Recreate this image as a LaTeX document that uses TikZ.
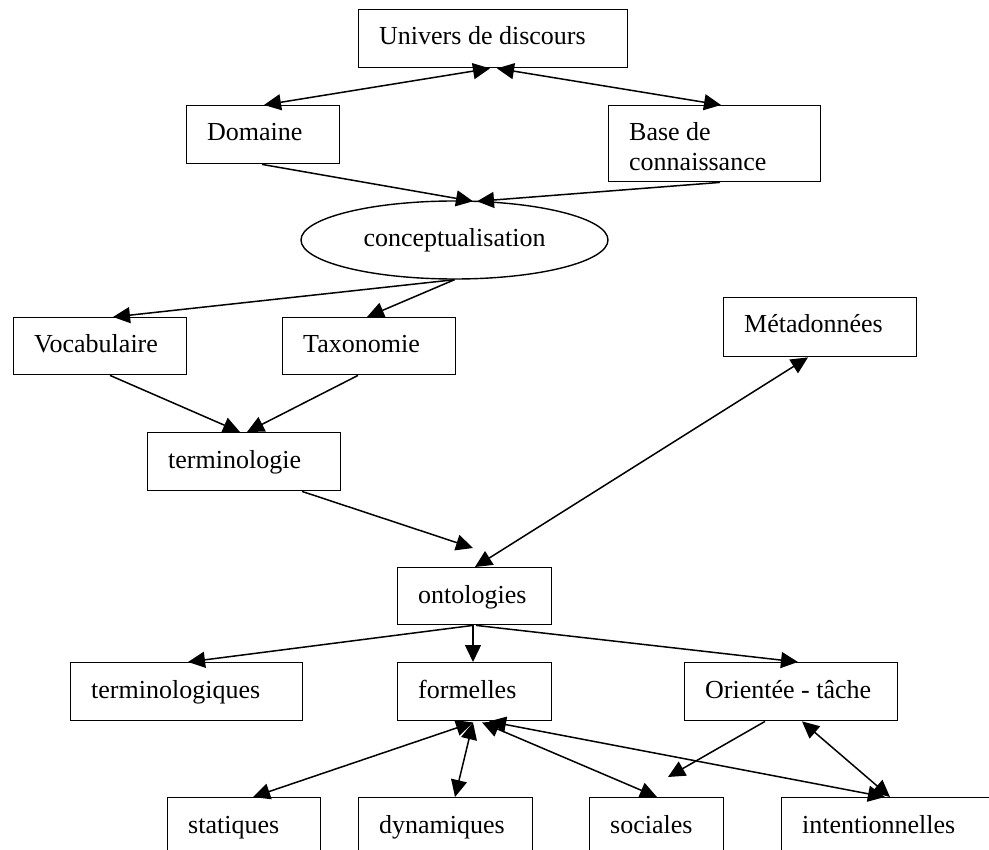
\documentclass[tikz,border=0pt]{standalone}
\usepackage{fontspec}
\setmainfont{Liberation Serif}
\usetikzlibrary{arrows.meta,calc,shapes.geometric}
\tikzset{
  box/.style={draw, line width=1.4pt, rectangle, anchor=north west, inner sep=0pt},
  lbl/.style={anchor=base west, inner sep=0pt, font=\fontsize{26}{30}\selectfont},
  tip/.tip={Triangle[length=17pt,width=16pt]},
  conn/.style={line width=1.5pt, -tip},
  bi/.style={line width=1.5pt, tip-tip},
}
\newcommand\bx[6]{%
  \node[box, minimum width={(#4)-(#2)}, minimum height={(#5)-(#3)}] (#1) at (#2,#3) {};
  \node[lbl] (#1-t) at ($(#1.north west)+(21,36)$) {#6};}
\begin{document}
\begin{tikzpicture}[x=1pt,y=-1pt]
\useasboundingbox (0,0) rectangle (989,850);
\bx{univ}{358}{9}{627}{67}{Univers de discours}
\bx{dom}{186}{105}{339}{163}{Domaine}
\node[box, minimum width=212, minimum height=76] (base) at (608,105) {};
\node[lbl] (base-t) at ($(base.north west)+(21,36)$) {Base de};
\node[lbl] (base-t2) at ($(base.north west)+(21,66)$) {connaissance};
\node[draw, line width=1.4pt, ellipse, minimum width=307, minimum height=78, inner sep=0pt,
      font=\fontsize{26}{30}\selectfont] (concept) at (454.5,240) {conceptualisation};
\bx{voc}{13}{317}{186}{374}{Vocabulaire}
\bx{tax}{282}{317}{455}{374}{Taxonomie}
\bx{meta}{723}{297}{916}{356}{Métadonnées}
\bx{term}{147}{432}{340}{490}{terminologie}
\bx{onto}{397}{567}{551}{624}{ontologies}
\bx{termq}{70}{662}{302}{720}{terminologiques}
\bx{form}{397}{662}{551}{720}{formelles}
\bx{orient}{684}{662}{897}{720}{Orientée - tâche}
\bx{stat}{167}{797}{320}{858}{statiques}
\bx{dyn}{358}{797}{532}{858}{dynamiques}
\bx{soc}{589}{797}{723}{858}{sociales}
\bx{intent}{781}{797}{1000}{858}{intentionnelles}

\coordinate (termend) at ($(onto.north west)+(76,-19)$);
\coordinate (orientend) at ($(soc.north west)+(79,-20)$);

\draw[bi] ($(univ.south west)+(132,0)$) -- ($(dom.north west)+(78,0)$);
\draw[bi] ($(univ.south west)+(139,0)$) -- ($(base.north west)+(113,0)$);
\draw[conn] ($(dom.south west)+(76,0)$) -- ($(concept.north)+(18.5,1)$);
\draw[conn] ($(base.south west)+(112,0)$) -- ($(concept.north)+(22.5,1)$);
\draw[conn] (concept.south) -- ($(voc.north west)+(100,0)$);
\draw[conn] (concept.south) -- ($(tax.north west)+(85,0)$);
\draw[conn] ($(voc.south west)+(97,0)$) -- ($(term.north west)+(93,0)$);
\draw[conn] ($(tax.south west)+(76,0)$) -- ($(term.north west)+(100,0)$);
\draw[conn] ($(term.south west)+(155,0)$) -- (termend);
\draw[bi] ($(meta.south west)+(85,0)$) -- ($(onto.north west)+(78,0)$);
\draw[conn] ($(onto.south west)+(76,0)$) -- ($(termq.north west)+(118,0)$);
\draw[conn] ($(onto.south west)+(76,0)$) -- ($(form.north west)+(76,0)$);
\draw[conn] ($(onto.south west)+(79,0)$) -- ($(orient.north west)+(114,0)$);
\draw[bi] ($(form.south west)+(76,1)$) -- ($(stat.north west)+(86,0)$);
\draw[bi] ($(form.south west)+(76,1)$) -- ($(dyn.north west)+(97,0)$);
\draw[bi] ($(form.south west)+(85,1)$) -- ($(soc.north west)+(68,0)$);
\draw[bi] ($(form.south west)+(92,0)$) -- ($(intent.north west)+(104,0)$);
\draw[conn] ($(orient.south west)+(81,0)$) -- (orientend);
\draw[bi] ($(orient.south west)+(118,0)$) -- ($(intent.north west)+(109,0)$);
\end{tikzpicture}
\end{document}
